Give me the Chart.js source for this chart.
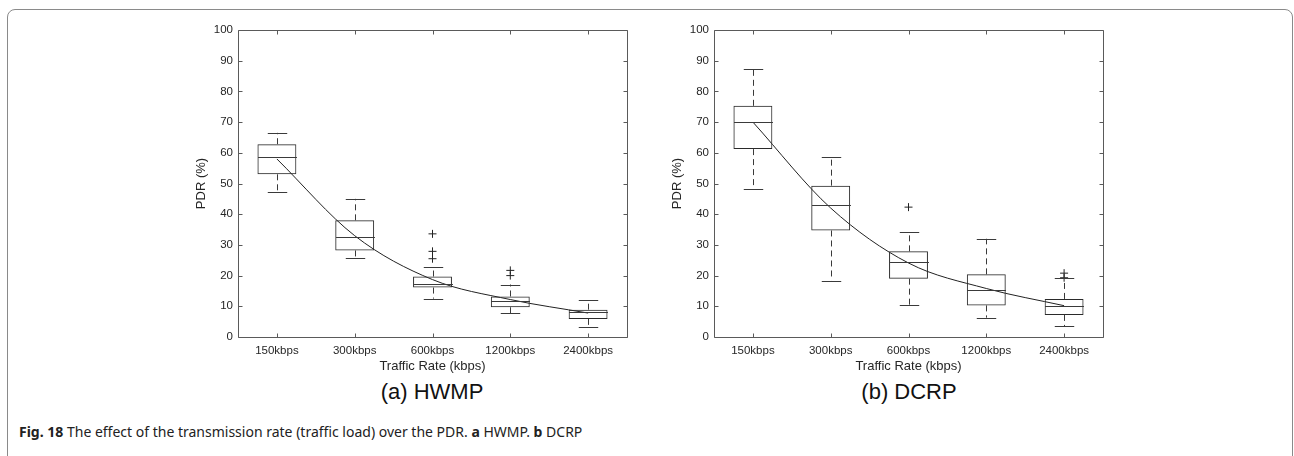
<!DOCTYPE html>
<html lang="en">
<head>
<meta charset="UTF-8">
<title>PDR vs Traffic Rate</title>
<script src="https://cdn.jsdelivr.net/npm/chart.js"></script>
<style>
  body { margin: 0; background: #fff; width: 1294px; height: 456px; overflow: hidden; position: relative; font-family: "Liberation Sans", Arial, sans-serif; }
  .frame { position: absolute; left: 7px; top: 9px; width: 1284px; height: 520px; border: 1.5px solid #8a8a8a; border-radius: 8px; }
  .plot { position: absolute; top: 15px; width: 460px; height: 360px; }
  .sub { position: absolute; top: 379px; width: 300px; text-align: center; font-size: 22px; color: #111; }
  .caption { position: absolute; left: 19px; top: 422px; font-family: "Noto Sans", sans-serif; font-size: 14px; color: #222; white-space: nowrap; }
</style>
</head>
<body>
<div class="frame"></div>
<div class="plot" style="left:180px"><canvas id="hwmp"></canvas></div>
<div class="plot" style="left:656px"><canvas id="dcrp"></canvas></div>
<div class="sub" style="left:282px">(a) HWMP</div>
<div class="sub" style="left:759px">(b) DCRP</div>
<div class="caption"><b>Fig. 18</b> The effect of the transmission rate (traffic load) over the PDR. <b>a</b> HWMP. <b>b</b> DCRP</div>

<script>
// categories
const categories = ['150kbps', '300kbps', '600kbps', '1200kbps', '2400kbps'];

// (a) HWMP - box statistics
const hwmpLow    = [47.3, 25.7, 12.5, 7.8, 3.3];
const hwmpQ1     = [53.0, 28.2, 16.1, 9.7, 5.9];
const hwmpMedian = [58.6, 32.5, 17.4, 11.8, 8.0];
const hwmpQ3     = [62.8, 38.0, 19.7, 13.2, 8.9];
const hwmpHigh   = [66.5, 45.0, 22.8, 17.1, 12.0];
const hwmpMean   = [58.0, 33.0, 18.7, 12.2, 7.8];
const hwmpOutliers = [[], [], [33.6, 27.9, 25.5], [21.7, 20.0], []];

// (b) DCRP
const dcrpLow    = [48.3, 18.4, 10.3, 6.3, 3.5];
const dcrpQ1     = [61.2, 34.7, 19.0, 10.3, 7.2];
const dcrpMedian = [69.9, 42.9, 24.5, 15.3, 10.0];
const dcrpQ3     = [75.3, 49.3, 27.9, 20.4, 12.4];
const dcrpHigh   = [87.3, 58.7, 34.1, 32.0, 19.1];
const dcrpMean   = [70.0, 42.0, 24.1, 15.8, 10.2];
const dcrpOutliers = [[], [], [42.3], [], [20.8, 19.3]];

const yMin = 0, yMax = 100, yStep = 10;

// whiskers, caps, medians and the matlab-style frame with inward ticks
const boxExtras = {
  id: 'boxExtras',
  afterDatasetsDraw(chart) {
    const o = chart.options.plugins.boxExtras;
    const { ctx, chartArea: a, scales: { x, y } } = chart;
    const bars = chart.getDatasetMeta(0).data;
    ctx.save();
    ctx.lineWidth = 1;
    ctx.strokeStyle = '#3a3a3a';
    o.q1.forEach((q1, i) => {
      const cx = Math.round(x.getPixelForValue(i)) + 0.5;
      const half = bars[i].width / 2;
      const cap = half / 2;
      // dashed whiskers
      ctx.setLineDash([6, 4]);
      ctx.beginPath();
      ctx.moveTo(cx, y.getPixelForValue(o.q3[i]));
      ctx.lineTo(cx, y.getPixelForValue(o.high[i]));
      ctx.moveTo(cx, y.getPixelForValue(q1));
      ctx.lineTo(cx, y.getPixelForValue(o.low[i]));
      ctx.stroke();
      ctx.setLineDash([]);
      // caps and median
      ctx.beginPath();
      [o.high[i], o.low[i]].forEach(v => {
        const py = Math.round(y.getPixelForValue(v)) + 0.5;
        ctx.moveTo(cx - cap, py);
        ctx.lineTo(cx + cap, py);
      });
      const my = Math.round(y.getPixelForValue(o.median[i])) + 0.5;
      ctx.moveTo(cx - half, my);
      ctx.lineTo(cx + half, my);
      ctx.stroke();
    });
    // axes box
    ctx.strokeStyle = '#5a5a5a';
    const L = Math.round(a.left) + 0.5, R = Math.round(a.right) + 0.5;
    const T = Math.round(a.top) + 0.5, B = Math.round(a.bottom) + 0.5;
    ctx.beginPath();
    ctx.rect(L, T, R - L, B - T);
    y.ticks.forEach(t => {
      const py = Math.round(y.getPixelForValue(t.value)) + 0.5;
      ctx.moveTo(L, py); ctx.lineTo(L + 4, py);
      ctx.moveTo(R, py); ctx.lineTo(R - 4, py);
    });
    categories.forEach((c, i) => {
      const px = Math.round(x.getPixelForValue(i)) + 0.5;
      ctx.moveTo(px, B); ctx.lineTo(px, B - 4);
      ctx.moveTo(px, T); ctx.lineTo(px, T + 4);
    });
    ctx.stroke();
    ctx.restore();
  }
};

function makeChart(id, low, q1, median, q3, high, mean, outliers) {
  const outPts = [];
  outliers.forEach((list, i) => list.forEach(v => outPts.push({ x: categories[i], y: v })));
  return new Chart(document.getElementById(id), {
    type: 'bar',
    data: {
      labels: categories,
      datasets: [
        {
          type: 'bar',
          data: q1.map((v, i) => [v, q3[i]]),
          backgroundColor: 'rgba(255,255,255,0)',
          borderColor: '#2a2a2a',
          borderWidth: 1,
          borderSkipped: false,
          barPercentage: 0.5,
          categoryPercentage: 1
        },
        {
          type: 'line',
          data: mean,
          borderColor: '#222',
          borderWidth: 1,
          pointRadius: 0,
          cubicInterpolationMode: 'monotone',
          fill: false
        },
        {
          type: 'line',
          data: outPts,
          showLine: false,
          pointStyle: 'cross',
          pointRadius: 4,
          borderColor: '#222',
          borderWidth: 1
        }
      ]
    },
    options: {
      responsive: true,
      maintainAspectRatio: false,
      animation: false,
      layout: { padding: { top: 15, right: 13, left: 0, bottom: 0 } },
      plugins: {
        legend: { display: false },
        tooltip: { enabled: false },
        boxExtras: { low, q1, median, q3, high }
      },
      scales: {
        x: {
          offset: true,
          grid: { display: false, drawTicks: false },
          border: { display: false },
          ticks: { color: '#262626', font: { family: 'Liberation Sans', size: 11.5 }, padding: 7, maxRotation: 0 },
          title: { display: true, text: 'Traffic Rate (kbps)', color: '#262626', font: { family: 'Liberation Sans', size: 13 }, padding: { top: 0, bottom: 1 } },
          afterFit(s) { s.height = 38; }
        },
        y: {
          min: yMin, max: yMax,
          grid: { display: false, drawTicks: false },
          border: { display: false },
          ticks: { stepSize: yStep, color: '#262626', font: { family: 'Liberation Sans', size: 11.5 }, padding: 5 },
          title: { display: true, text: 'PDR (%)', color: '#262626', font: { family: 'Liberation Sans', size: 13 }, padding: { top: 14, bottom: 0 } },
          afterFit(s) { s.width = 58; }
        }
      }
    },
    plugins: [boxExtras]
  });
}

makeChart('hwmp', hwmpLow, hwmpQ1, hwmpMedian, hwmpQ3, hwmpHigh, hwmpMean, hwmpOutliers);
makeChart('dcrp', dcrpLow, dcrpQ1, dcrpMedian, dcrpQ3, dcrpHigh, dcrpMean, dcrpOutliers);
</script>
</body>
</html>
